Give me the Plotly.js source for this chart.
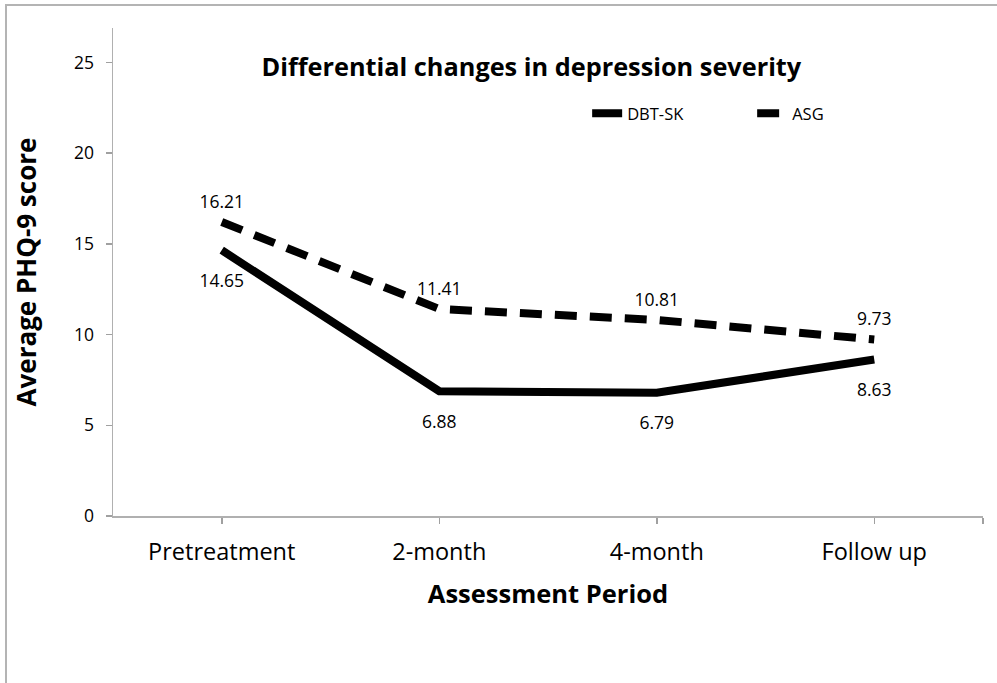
<!DOCTYPE html>
<html>
<head>
<meta charset="utf-8">
<script src="https://cdn.plot.ly/plotly-3.0.1.min.js"></script>
<style>
  html, body { margin: 0; padding: 0; background: #fff; }
  #wrap { position: relative; width: 997px; height: 683px; overflow: hidden; }
  #frame { position: absolute; left: 5px; top: 4px; width: 1100px; height: 800px;
           border: 2px solid #b4b4b4; box-sizing: border-box; pointer-events: none; z-index: 5; }
  #chart { position: absolute; left: 0; top: 0; width: 997px; height: 683px; }
</style>
</head>
<body>
<div id="wrap">
  <div id="chart"></div>
  <div id="frame"></div>
</div>
<script>
const categories = ["Pretreatment", "2-month", "4-month", "Follow up"];
const dbtValues = [14.65, 6.88, 6.79, 8.63];
const asgValues = [16.21, 11.41, 10.81, 9.73];
const seriesNames = ["DBT-SK", "ASG"];
const yTicks = [0, 5, 10, 15, 20, 25];

const FONT = "'Open Sans', sans-serif";
const idx = categories.map((c, i) => i);

const traces = [
  {
    x: idx, y: dbtValues, name: seriesNames[0], type: "scatter", mode: "lines+markers+text",
    line: { color: "#000", width: 8 },
    marker: { size: 36, color: "rgba(0,0,0,0)" },
    text: dbtValues.map(v => v.toFixed(2)), textposition: "bottom center",
    textfont: { family: FONT, size: 17.5, color: "#000" },
    cliponaxis: false
  },
  {
    x: idx, y: asgValues, name: seriesNames[1], type: "scatter", mode: "lines+markers+text",
    line: { color: "#000", width: 8, dash: "22px,13px" },
    marker: { size: 14, color: "rgba(0,0,0,0)" },
    text: asgValues.map(v => v.toFixed(2)), textposition: "top center",
    textfont: { family: FONT, size: 17.5, color: "#000" },
    cliponaxis: false
  }
];

const layout = {
  width: 997, height: 683,
  margin: { l: 113, r: 14, t: 28, b: 167 },
  paper_bgcolor: "#fff", plot_bgcolor: "#fff",
  font: { family: FONT, color: "#000" },
  showlegend: true,
  title: {
    text: "<b>Differential changes in depression severity</b>",
    font: { family: FONT, size: 25.3, color: "#000" },
    x: 0.533, xanchor: "center", y: 0.902, yanchor: "middle"
  },
  legend: {
    orientation: "h", x: 0.545, xanchor: "left", y: 0.825, yanchor: "middle",
    font: { family: FONT, size: 16.5, color: "#000" },
    bgcolor: "rgba(0,0,0,0)", itemwidth: 30, tracegroupgap: 0,
    entrywidth: 120, entrywidthmode: "pixels"
  },
  xaxis: {
    type: "linear", range: [-0.5, 3.5],
    tickvals: idx.concat([3.5]), ticktext: categories.concat([""]),
    tickfont: { family: FONT, size: 23.5, color: "#000" },
    ticks: "outside", ticklen: 6, tickcolor: "#a0a0a0", tickwidth: 1.5,
    ticklabelstandoff: 8,
    showline: true, linecolor: "#b0b0b0", linewidth: 1.5,
    showgrid: false, zeroline: false, fixedrange: true,
    title: { text: "<b>Assessment Period</b>", font: { family: FONT, size: 25.5, color: "#000" }, standoff: 19 }
  },
  yaxis: {
    range: [0, 26.9], tickvals: yTicks,
    tickfont: { family: FONT, size: 17.5, color: "#000" },
    ticks: "outside", ticklen: 6, tickcolor: "#a0a0a0", tickwidth: 1.5,
    ticklabelstandoff: 8,
    showline: true, linecolor: "#b0b0b0", linewidth: 1.5,
    showgrid: false, zeroline: false, fixedrange: true,
    title: { text: "<b>Average PHQ-9 score</b>", font: { family: FONT, size: 26, color: "#000" }, standoff: 30 }
  }
};

Plotly.newPlot("chart", traces, layout, { displayModeBar: false, staticPlot: true });
</script>
</body>
</html>
